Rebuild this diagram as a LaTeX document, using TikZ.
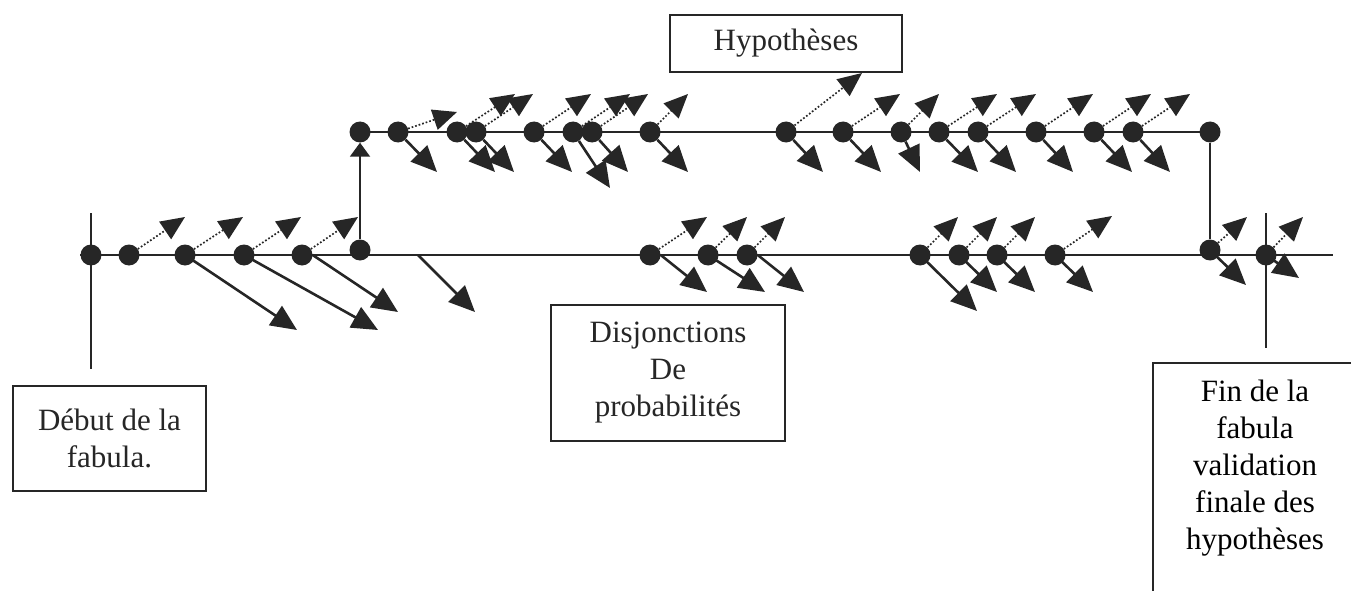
\documentclass[tikz,border=0pt]{standalone}
\usepackage{fontspec}
\setmainfont{Liberation Serif}
\usetikzlibrary{arrows.meta}
\tikzset{
  dot/.style={circle,fill=black!85,inner sep=0pt,minimum size=21pt},
  mainline/.style={line width=2.4pt,black!85},
  boxline/.style={line width=1.5pt,black!85},
  solidarrow/.style={line width=2.6pt,black!85,-{Triangle[length=26pt,width=23pt]}},
  dotarrow/.style={line width=1.7pt,black!85,dotted,-{Triangle[length=24pt,width=21pt]}},
  textbox/.style={boxline,draw,align=center,font={\fontsize{31}{37}\selectfont}},
  plaintext/.style={align=center,font={\fontsize{31}{37}\selectfont}},
}
\begin{document}
\begin{tikzpicture}[x=1pt,y=-1pt]
    \useasboundingbox (0,0) rectangle (1351,591);
    %\draw[help lines] (0,0) grid[step=50] (1351,591);
    \coordinate (lstart) at (80,255);
    \coordinate (lend) at (1333,255);
    \draw[mainline] (lstart) -- (lend);
    \coordinate (dtop) at (91,213);
    \coordinate (dbot) at (91,369);
    \draw[mainline] (dtop) -- (dbot);
    \coordinate (ftop) at (1266,213);
    \coordinate (fbot) at (1266,348);
    \draw[mainline] (ftop) -- (fbot);
    % lower line
    \foreach \x/\y [count=\i] in {91/255,129/255,185/255,244/255,302/255,360/250,650/255,708/255,747/255,
      920/255,959/255,997/255,1055/255,1210/250,1266/255}
      \node[dot] (l\i) at (\x,\y) {};
    % upper line
    \foreach \x [count=\i] in {360,398,457,476,534,573,592,650,786,843,901,939,978,1036,1094,1133,1210}
      \node[dot] (u\i) at (\x,132) {};
    \draw[mainline] (u1.center) -- (u17.center);
    \draw[line width=2pt,black!85,-{Triangle[length=14pt,width=20pt]}] (l6) -- (u1);
    \draw[line width=1.6pt,black!85] (u17) -- (l14);
    % dotted arrows
    \foreach \i/\tx/\ty in {2/185/217,3/243/217,4/301/217,5/358/217,7/707/217,8/747/217,9/785/217,
      10/958/217,11/997/217,12/1035/217,13/1112/216,14/1247/217,15/1303/217}{
      \coordinate (ld\i) at (\tx,\ty);
      \draw[dotarrow] (l\i) -- (ld\i);
    }
    \foreach \i/\tx/\ty in {2/457/112,3/515/94,4/533/94,5/591/94,6/630/94,7/648/94,8/688/94,9/862/73,
      10/900/94,11/939/94,12/997/94,13/1036/94,14/1093/94,15/1151/94,16/1190/94}{
      \coordinate (ud\i) at (\tx,\ty);
      \draw[dotarrow] (u\i) -- (ud\i);
    }
    % solid arrows
    \foreach \i/\a/\tx/\ty in {3/center/297/330,4/center/378/330,5/east/398/312,7/east/707/292,
      8/center/765/292,9/east/804/292,10/center/977/311,11/center/997/292,12/center/1035/292,
      13/center/1093/292,14/center/1246/285,15/center/1299/278}{
      \coordinate (ls\i) at (\tx,\ty);
      \draw[solidarrow] (l\i.\a) -- (ls\i);
    }
    \coordinate (lf) at (418,255);
    \coordinate (lft) at (475,312);
    \draw[solidarrow] (lf) -- (lft);
    \foreach \i/\tx/\ty in {2/437/172,3/495/172,4/514/172,5/572/172,6/610/188,7/628/172,8/688/172,
      9/823/172,10/881/172,11/920/172,12/978/172,13/1016/172,14/1073/172,15/1132/172,16/1170/172}{
      \coordinate (us\i) at (\tx,\ty);
      \draw[solidarrow] (u\i) -- (us\i);
    }
    % labels
    \node[textbox,minimum width=232pt,minimum height=57pt] (hyp) at (786,43.5) {Hypothèses};
    \node[textbox,minimum width=234pt,minimum height=136pt] (disj) at (668,373)
      {Disjonctions\\De\\probabilités};
    \node[textbox,minimum width=193pt,minimum height=105pt] (debut) at (109.5,438.5)
      {Début de la\\fabula.};
    \coordinate (fbl) at (1153,600);
    \coordinate (ftr) at (1360,363);
    \draw[boxline] (fbl) |- (ftr);
    \node[plaintext] (fin) at (1255,468)
      {Fin de la\\fabula\\validation\\finale des\\hypothèses};
\end{tikzpicture}
\end{document}
